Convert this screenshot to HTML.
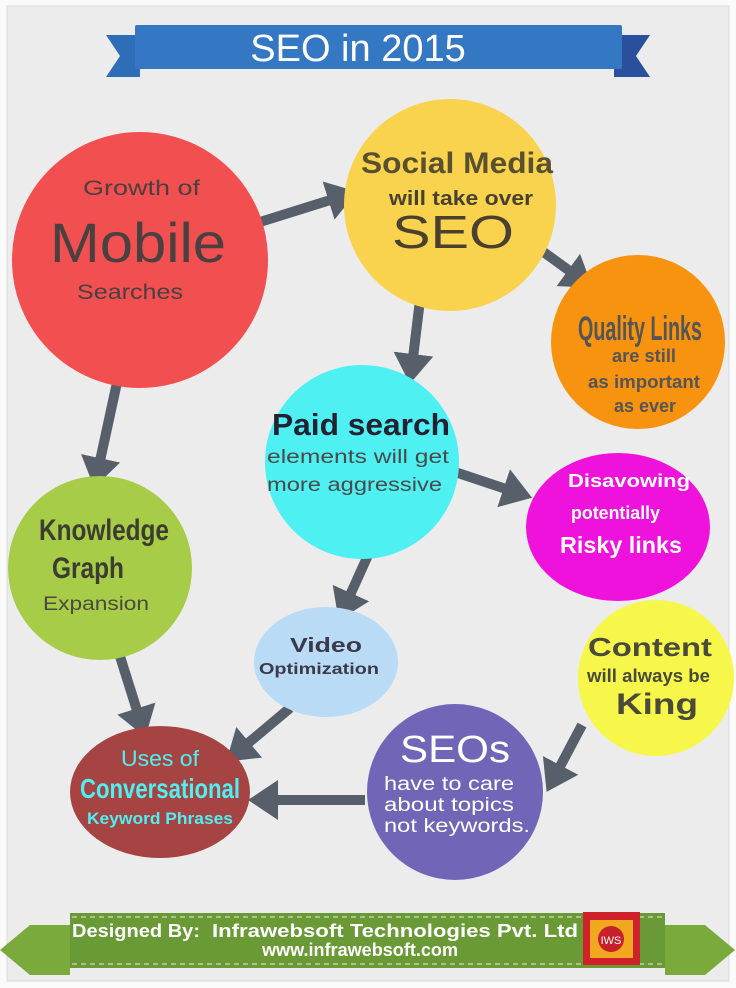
<!DOCTYPE html>
<html><head><meta charset="utf-8"><style>
html,body{margin:0;padding:0;background:#fff}
svg{display:block}
text{font-family:"Liberation Sans",sans-serif}
.n{font-weight:bold}
</style></head><body>
<svg width="736" height="988" viewBox="0 0 736 988" xmlns="http://www.w3.org/2000/svg">
<defs>
<marker id="a" markerWidth="4" markerHeight="4" refX="1.2" refY="2" orient="auto" markerUnits="strokeWidth">
<path d="M0,0 L3,2 L0,4 Z" fill="#57606a"/></marker>
</defs>
<rect x="0" y="0" width="736" height="988" fill="#fafafa"/>
<rect x="7" y="6" width="722" height="975" fill="#ececec" stroke="#dadada"/>
<polygon points="106,35 140,35 140,77 106,77 120,56" fill="#2e6db8"/>
<polygon points="650,35 614,35 614,77 650,77 636,56" fill="#2a4f9c"/>
<rect x="135" y="25" width="487" height="44" fill="#3478c4" rx="2"/>
<text x="358" y="61" font-size="38" fill="#fff" text-anchor="middle">SEO in 2015</text>
<g stroke="#57606a" stroke-width="10" fill="none" marker-end="url(#a)">
<line x1="260" y1="222" x2="340" y2="197"/>
<line x1="538" y1="248" x2="578" y2="277"/>
<line x1="420" y1="300" x2="412" y2="366"/>
<line x1="118" y1="378" x2="98" y2="470"/>
<line x1="455" y1="472" x2="515" y2="492"/>
<line x1="374" y1="542" x2="346" y2="604"/>
<line x1="118" y1="650" x2="140" y2="720"/>
<line x1="290" y1="708" x2="240" y2="750"/>
<line x1="582" y1="725" x2="555" y2="776"/>
<line x1="365" y1="800" x2="266" y2="800"/>
</g>
<circle cx="140" cy="260" r="128" fill="#f24f51"/>
<circle cx="450" cy="205" r="106" fill="#f9d34d"/>
<circle cx="638" cy="342" r="87" fill="#f8930f"/>
<circle cx="362" cy="462" r="97" fill="#4ef0f2"/>
<ellipse cx="618" cy="527" rx="92" ry="74" fill="#ee12dc"/>
<circle cx="100" cy="568" r="92" fill="#a6cc48"/>
<ellipse cx="326" cy="662" rx="72" ry="55" fill="#b9dbf6"/>
<circle cx="656" cy="678" r="78" fill="#f6f74a"/>
<circle cx="455" cy="792" r="88" fill="#7065b7"/>
<ellipse cx="160" cy="792" rx="90" ry="66" fill="#a64343"/>
<g fill="#4a4040">
<text x="83" y="195" font-size="21" textLength="117" lengthAdjust="spacingAndGlyphs">Growth of</text>
<text x="50" y="262" font-size="56" textLength="176" lengthAdjust="spacingAndGlyphs">Mobile</text>
<text x="77" y="299" font-size="21" textLength="106" lengthAdjust="spacingAndGlyphs">Searches</text>
</g>
<g fill="#5a5030">
<text class="n" x="361" y="173" font-size="30" textLength="192" lengthAdjust="spacingAndGlyphs">Social Media</text>
<text class="n" x="389" y="205" font-size="20" fill="#4a4030" textLength="144" lengthAdjust="spacingAndGlyphs">will take over</text>
<text x="392" y="248" font-size="46" fill="#4a4030" textLength="122" lengthAdjust="spacingAndGlyphs">SEO</text>
</g>
<g fill="#555" class="n">
<text x="578" y="340" font-size="34" textLength="124" lengthAdjust="spacingAndGlyphs">Quality Links</text>
<text x="612" y="362" font-size="18" textLength="64" lengthAdjust="spacingAndGlyphs">are still</text>
<text x="588" y="388" font-size="18" textLength="112" lengthAdjust="spacingAndGlyphs">as important</text>
<text x="614" y="412" font-size="18" textLength="62" lengthAdjust="spacingAndGlyphs">as ever</text>
</g>
<g>
<text class="n" x="272" y="435" font-size="31" fill="#223" textLength="178" lengthAdjust="spacingAndGlyphs">Paid search</text>
<text x="267" y="463" font-size="19" fill="#4a4a4a" textLength="182" lengthAdjust="spacingAndGlyphs">elements will get</text>
<text x="267" y="491" font-size="19" fill="#4a4a4a" textLength="175" lengthAdjust="spacingAndGlyphs">more aggressive</text>
</g>
<g fill="#fff" class="n">
<text x="568" y="487" font-size="18" textLength="122" lengthAdjust="spacingAndGlyphs">Disavowing</text>
<text x="571" y="519" font-size="18" textLength="89" lengthAdjust="spacingAndGlyphs">potentially</text>
<text x="560" y="553" font-size="23" textLength="122" lengthAdjust="spacingAndGlyphs">Risky links</text>
</g>
<g class="n" fill="#3c3c30">
<text x="39" y="540" font-size="30" textLength="130" lengthAdjust="spacingAndGlyphs">Knowledge</text>
<text x="52" y="578" font-size="30" textLength="72" lengthAdjust="spacingAndGlyphs">Graph</text>
</g>
<text x="43" y="610" font-size="19" fill="#4a4a40" textLength="106" lengthAdjust="spacingAndGlyphs">Expansion</text>
<g class="n" fill="#3a3a4a">
<text x="290" y="652" font-size="20" textLength="72" lengthAdjust="spacingAndGlyphs">Video</text>
<text x="259" y="674" font-size="16" textLength="120" lengthAdjust="spacingAndGlyphs">Optimization</text>
</g>
<g class="n" fill="#4a4a3a">
<text x="588" y="656" font-size="26" textLength="124" lengthAdjust="spacingAndGlyphs">Content</text>
<text x="587" y="682" font-size="18" textLength="123" lengthAdjust="spacingAndGlyphs">will always be</text>
<text x="616" y="714" font-size="30" textLength="82" lengthAdjust="spacingAndGlyphs">King</text>
</g>
<g fill="#fff">
<text x="400" y="762" font-size="38" textLength="110" lengthAdjust="spacingAndGlyphs">SEOs</text>
<text x="384" y="790" font-size="19" textLength="130" lengthAdjust="spacingAndGlyphs">have to care</text>
<text x="384" y="811" font-size="19" textLength="130" lengthAdjust="spacingAndGlyphs">about topics</text>
<text x="384" y="832" font-size="19" textLength="146" lengthAdjust="spacingAndGlyphs">not keywords.</text>
</g>
<g fill="#4ef0f2">
<text x="121" y="766" font-size="22" textLength="78" lengthAdjust="spacingAndGlyphs">Uses of</text>
<text class="n" x="80" y="798" font-size="28" textLength="160" lengthAdjust="spacingAndGlyphs">Conversational</text>
<text class="n" x="87" y="824" font-size="17" textLength="146" lengthAdjust="spacingAndGlyphs">Keyword Phrases</text>
</g>
<polygon points="70,925 30,925 0,950 30,975 70,975" fill="#7aaa3c"/>
<polygon points="665,925 705,925 735,950 705,975 665,975" fill="#7aaa3c"/>
<rect x="70" y="913" width="595" height="55" fill="#6a9a35"/>
<line x1="72" y1="917" x2="663" y2="917" stroke="#e6eed8" stroke-width="1" stroke-dasharray="5,4"/>
<line x1="72" y1="964" x2="663" y2="964" stroke="#e6eed8" stroke-width="1" stroke-dasharray="5,4"/>
<text class="n" x="72" y="937" font-size="18" fill="#fff" textLength="128" lengthAdjust="spacingAndGlyphs">Designed By:</text>
<text x="212" y="937" font-size="18" fill="#fff" font-weight="bold" textLength="366" lengthAdjust="spacingAndGlyphs">Infrawebsoft Technologies Pvt. Ltd</text>
<text class="n" x="262" y="956" font-size="18" fill="#fff" textLength="196" lengthAdjust="spacingAndGlyphs">www.infrawebsoft.com</text>
<rect x="583" y="912" width="57" height="53" fill="#d0202a"/>
<rect x="590" y="920" width="43" height="38" fill="#f2a81e"/>
<circle cx="611" cy="939" r="13" fill="#c8202a"/>
<text x="611" y="944" font-size="11" fill="#fff" text-anchor="middle">IWS</text>
</svg>
</body></html>
